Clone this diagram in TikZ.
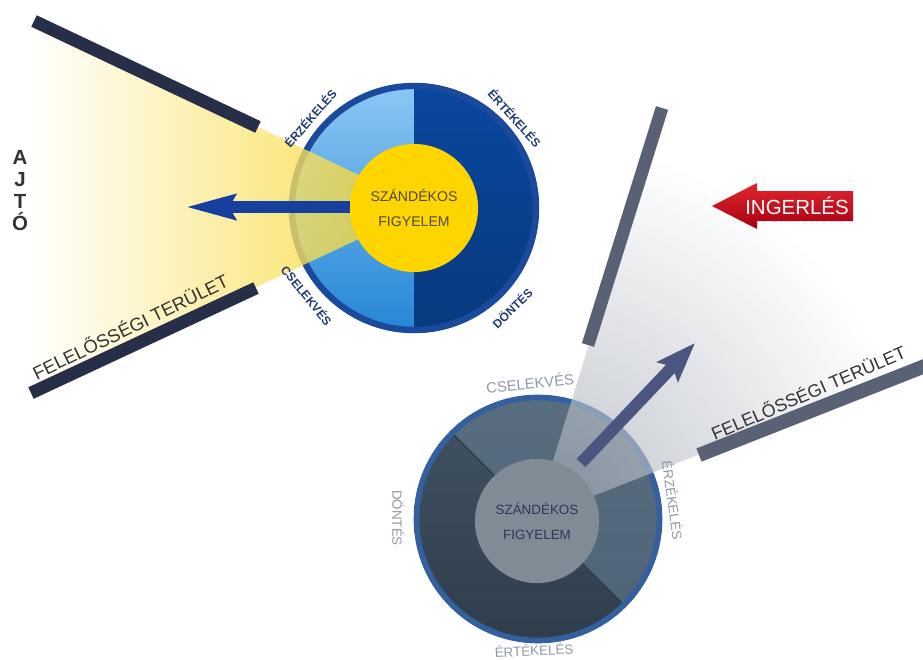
\documentclass[tikz,border=0pt]{standalone}
\usepackage{fontspec}
\setmainfont{Liberation Sans}
\usepackage{tikz}
\usetikzlibrary{arrows.meta, positioning, calc}
\definecolor{WallNavy}{HTML}{262F47}
\definecolor{WallSlate}{HTML}{596175}
\definecolor{RingBlue}{HTML}{1B4A9C}
\definecolor{SegLightTop}{HTML}{8CC8F5}
\definecolor{SegLightBot}{HTML}{2486D6}
\definecolor{SegDarkTop}{HTML}{0A47A0}
\definecolor{SegDarkBot}{HTML}{083A7C}
\definecolor{FocusYellow}{HTML}{FFD500}
\definecolor{BeamYellow}{HTML}{F9D82E}
\definecolor{ArrowBlue}{HTML}{173F9E}
\definecolor{LabelNavy}{HTML}{1E3A78}
\definecolor{RingSlate}{HTML}{33609F}
\definecolor{SlateLight}{HTML}{5C7082}
\definecolor{SlateLightB}{HTML}{4B6073}
\definecolor{SlateDark}{HTML}{415365}
\definecolor{SlateDarkB}{HTML}{2F3D4B}
\definecolor{InnerGray}{HTML}{808B96}
\definecolor{BeamGray}{HTML}{9AA2AD}
\definecolor{ArrowSlate}{HTML}{4B5680}
\definecolor{LabelGray}{HTML}{8F99AC}
\definecolor{FocusNavy}{HTML}{2C3658}
\definecolor{FocusText}{HTML}{4B4A3A}
\definecolor{StimRedTop}{HTML}{E0262E}
\definecolor{StimRedBot}{HTML}{A80012}
\definecolor{TextDark}{HTML}{333333}

\begin{document}
\begin{tikzpicture}[
  x=0.709pt, y=-0.709pt,
  wall/.style={line width=9pt, line cap=butt},
  focus/.style={circle, align=center, inner sep=0pt,
                font=\fontsize{10}{17.7}\selectfont},
  arclbl/.style={font=\fontsize{8.5}{9}\selectfont\bfseries, text=LabelNavy, inner sep=0pt},
  arclbl2/.style={font=\fontsize{9.5}{10}\selectfont, text=LabelGray, inner sep=0pt},
  zone/.style={font=\fontsize{13}{14}\selectfont, text=TextDark, inner sep=0pt},
  arr/.style={line width=8.5pt}
]
\useasboundingbox (0,0) rectangle (923,659);
\fill[white] (0,0) rectangle (923,659);

% Upper circle (facing the door)
\coordinate (U) at (414,208);
\begin{scope}
  \clip (U) circle[radius=125];
  \shade[top color=SegLightTop, bottom color=SegLightBot] (289,83) rectangle (414,333);
  \shade[top color=SegDarkTop, bottom color=SegDarkBot] (414,83) rectangle (539,333);
\end{scope}
\draw[RingBlue, line width=4.5pt] (U) circle[radius=122];

% Yellow beam
\shade[left color=white, middle color=BeamYellow!40, right color=BeamYellow, fill opacity=0.78]
  (380,185) -- (34,21) -- (31,393) -- (380,229) -- cycle;

% Walls of the door
\draw[wall, WallNavy] (34,21) -- (258,127);
\draw[wall, WallNavy] (31,393) -- (256,288);

\node[focus, fill=FocusYellow, minimum size=90.8pt, text=FocusText] (focusTop) at (U) {SZÁNDÉKOS\\FIGYELEM};
\coordinate (doorTip) at (185,207);
\draw[arr, ArrowBlue, -{Stealth[length=35pt, width=17pt, inset=4pt]}] (focusTop.west |- doorTip) -- (doorTip);

% Labels of the upper circle
\node[arclbl, rotate=49] (senseTop) at (310,118) {ÉRZÉKELÉS};
\node[arclbl, rotate=-48] (evalTop) at (515,118) {ÉRTÉKELÉS};
\node[arclbl, rotate=-51] (actTop) at (307,295) {CSELEKVÉS};
\node[arclbl, rotate=44] (decTop) at (512,308) {DÖNTÉS};

\node[font=\fontsize{14.5}{15.6}\selectfont\bfseries, text=TextDark, align=center, inner sep=0pt] (ajto) at (20,191) {A\\J\\T\\Ó};
\node[zone, rotate=26] (zoneDoor) at (130,326) {FELELŐSSÉGI TERÜLET};

% Lower circle (turned to the stimulus)
\coordinate (L) at (538,519);
\begin{scope}
  \clip (L) circle[radius=124];
  \shade[top color=SlateDark, bottom color=SlateDarkB] (414,395) rectangle (662,643);
  \shade[top color=SlateLight, bottom color=SlateLightB] (338,319) -- (738,319) -- (738,719) -- cycle;
  \draw[SlateDarkB, line width=1pt] (338,319) -- (738,719);
\end{scope}
\draw[RingSlate, line width=4pt] (L) circle[radius=121.5];

% Grey beam
\begin{scope}
  \clip (547,480) -- (662,108) -- (930,108) -- (930,364) -- (570,505) -- cycle;
  \shade[inner color=BeamGray, outer color=white, fill opacity=0.65] (L) circle[radius=380];
\end{scope}

% Walls of the stimulus side
\draw[wall, WallSlate] (662,108) -- (588,345);
\draw[wall, WallSlate, line width=10pt] (699,455) -- (930,364);

\node[focus, fill=InnerGray, minimum size=88pt, text=FocusNavy, font=\fontsize{9.5}{17.7}\selectfont] (focusBot) at (537,521) {SZÁNDÉKOS\\FIGYELEM};
\coordinate (stimTail) at (581,463);
\coordinate (stimTip) at (695,343);
\draw[arr, ArrowSlate, -{Stealth[length=28pt, width=20pt, inset=5pt]}] (stimTail) -- (stimTip);

% Labels of the lower circle
\node[arclbl2, font=\fontsize{10.5}{11}\selectfont, rotate=6] (actBot) at (530,383) {CSELEKVÉS};
\node[arclbl2, rotate=-82] (senseBot) at (673,500) {ÉRZÉKELÉS};
\node[arclbl2, rotate=-90] (decBot) at (398,518) {DÖNTÉS};
\node[arclbl2, rotate=3] (evalBot) at (534,650) {ÉRTÉKELÉS};

\node[zone, font=\fontsize{12.7}{14}\selectfont, rotate=23.5] (zoneStim) at (808,392) {FELELŐSSÉGI TERÜLET};

% Stimulus arrow
\shade[top color=StimRedTop, bottom color=StimRedBot]
  (712,206) -- (757,183) -- (757,191) -- (853,191) -- (853,221) -- (757,221) -- (757,229) -- cycle;
\node[text=white, font=\fontsize{14.5}{15}\selectfont, inner sep=0pt] (stimulus) at (797,206) {INGERLÉS};

\end{tikzpicture}
\end{document}
